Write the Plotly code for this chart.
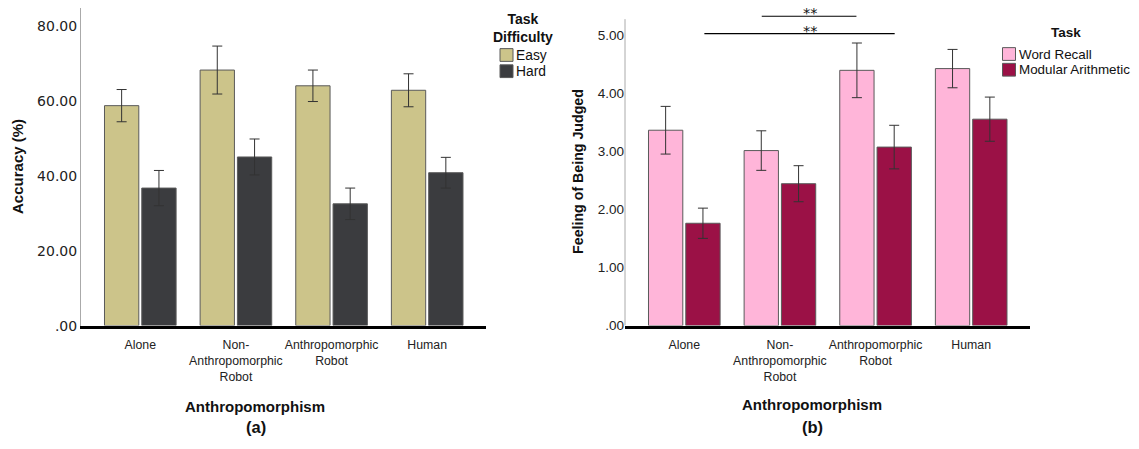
import plotly.graph_objects as go

W, H = 1139, 449

categories = ["Alone", "Non-<br>Anthropomorphic<br>Robot", "Anthropomorphic<br>Robot", "Human"]

# Panel (a): Accuracy (%)
acc_easy = [58.7, 68.2, 64.0, 62.8]
acc_easy_err = [4.3, 6.4, 4.2, 4.4]
acc_hard = [36.7, 45.0, 32.5, 40.8]
acc_hard_err = [4.7, 4.8, 4.2, 4.1]

# Panel (b): Feeling of Being Judged
fj_word = [3.36, 3.01, 4.39, 4.42]
fj_word_err = [0.41, 0.34, 0.47, 0.33]
fj_mod = [1.76, 2.44, 3.07, 3.55]
fj_mod_err = [0.26, 0.31, 0.375, 0.38]

acc_ticks = [0, 20, 40, 60, 80]
acc_ticktext = [".00", "20.00", "40.00", "60.00", "80.00"]
fj_ticks = [0, 1, 2, 3, 4, 5]
fj_ticktext = [".00", "1.00", "2.00", "3.00", "4.00", "5.00"]

# significance brackets: (x_start, x_end, y, label)
sig_lines = [(0.81, 1.80, 5.32, "**"), (0.21, 2.20, 5.02, "**")]

C_EASY = "#CCC48A"
C_HARD = "#3B3C3F"
C_WORD = "#FFB5D9"
C_MOD = "#9B1146"
OUTLINE = "#5a5a5a"
ERRC = "#333333"
FONT = "Arial, Liberation Sans, sans-serif"


def px(x):
    return x / W


def py(y):
    return 1 - y / H


def err(vals):
    return dict(type="data", array=vals, visible=True, color=ERRC, thickness=1, width=5)


fig = go.Figure()
fig.add_trace(go.Bar(x=categories, y=acc_easy, name="Easy", marker=dict(color=C_EASY, line=dict(color=OUTLINE, width=1)),
                     error_y=err(acc_easy_err), xaxis="x", yaxis="y", showlegend=False))
fig.add_trace(go.Bar(x=categories, y=acc_hard, name="Hard", marker=dict(color=C_HARD, line=dict(color=OUTLINE, width=1)),
                     error_y=err(acc_hard_err), xaxis="x", yaxis="y", showlegend=False))
fig.add_trace(go.Bar(x=categories, y=fj_word, name="Word Recall", marker=dict(color=C_WORD, line=dict(color=OUTLINE, width=1)),
                     error_y=err(fj_word_err), xaxis="x2", yaxis="y2", showlegend=False))
fig.add_trace(go.Bar(x=categories, y=fj_mod, name="Modular Arithmetic", marker=dict(color=C_MOD, line=dict(color=OUTLINE, width=1)),
                     error_y=err(fj_mod_err), xaxis="x2", yaxis="y2", showlegend=False))

ydom = [py(331.5), py(8)]
xa_common = dict(showline=True, linecolor="black", linewidth=2.5, ticks="", showgrid=False, zeroline=False,
                 tickangle=0, ticklabelstandoff=6, range=[-0.62, 3.615],
                 tickfont=dict(family=FONT, size=12.3, color="#222"), fixedrange=True)

fig.update_layout(
    width=W, height=H, margin=dict(l=0, r=0, t=0, b=0),
    paper_bgcolor="white", plot_bgcolor="white",
    barmode="group", bargap=0.22, bargroupgap=0.08,
    xaxis=dict(domain=[px(81), px(486)], anchor="y", **xa_common),
    xaxis2=dict(domain=[px(625), px(1030)], anchor="y2", **xa_common),
    yaxis=dict(domain=ydom, anchor="x", range=[0, 323.5 / 3.815], tickvals=acc_ticks, ticktext=acc_ticktext,
               showline=True, linecolor="#aaaaaa", linewidth=1, ticks="", showgrid=False, zeroline=False,
               tickfont=dict(family="DejaVu Sans", size=14, color="#222")),
    yaxis2=dict(domain=ydom, anchor="x2", range=[0, 323.5 / 59.2], tickvals=fj_ticks, ticktext=fj_ticktext,
                showline=False, ticks="", showgrid=False, zeroline=False,
                tickfont=dict(family=FONT, size=13.5, color="#222")),
    showlegend=False,
)

shapes = []
# right y-axis line (stops at 5.27)
shapes.append(dict(type="line", xref="x2 domain", yref="y2", x0=0, x1=0, y0=0, y1=5.27,
                   line=dict(color="#aaaaaa", width=1)))
for x0, x1, y, lab in sig_lines:
    shapes.append(dict(type="line", xref="x2", yref="y2", x0=x0, x1=x1, y0=y, y1=y, line=dict(color="black", width=1.2)))

# manual legends
def swatch(x0, y0, x1, y1, color):
    return dict(type="rect", xref="paper", yref="paper", x0=px(x0), x1=px(x1), y0=py(y1), y1=py(y0),
                fillcolor=color, line=dict(color=OUTLINE, width=1))

shapes += [swatch(500, 49.5, 513, 62.5, C_EASY), swatch(500, 66, 513, 79, C_HARD),
           swatch(1002.5, 48.5, 1015.5, 61.5, C_WORD), swatch(1002.5, 64.5, 1015.5, 77.5, C_MOD)]
fig.update_layout(shapes=shapes)

ann = []
def txt(x, y, s, size, bold=False, xanchor="center", yanchor="middle", angle=0, color="#111", family=FONT):
    ann.append(dict(xref="paper", yref="paper", x=px(x), y=py(y), text=f"<b>{s}</b>" if bold else s,
                    showarrow=False, xanchor=xanchor, yanchor=yanchor, textangle=angle,
                    font=dict(family=family, size=size, color=color)))

txt(18, 170, "Accuracy (%)", 15, bold=True, angle=-90)
txt(578, 175, "Feeling of Being Judged", 14.2, bold=True, angle=-90)
txt(255, 414, "Anthropomorphism", 15, bold=True)
txt(812, 412, "Anthropomorphism", 15, bold=True)
txt(256, 435, "(a)", 16.5, bold=True)
txt(812, 435, "(b)", 16.5, bold=True)
txt(523, 28, "Task<br>Difficulty", 14, bold=True)
txt(514, 56, "Easy", 13.8, xanchor="left")
txt(514, 72.5, "Hard", 13.8, xanchor="left")
txt(1066, 33.5, "Task", 13.5, bold=True)
txt(1016.5, 55, "Word Recall", 13.4, xanchor="left")
txt(1016.5, 71, "Modular Arithmetic", 13.4, xanchor="left")

for x0, x1, y, lab in sig_lines:
    ann.append(dict(xref="x2", yref="y2", x=1.315, y=y, text=lab, showarrow=False, xanchor="center",
                    yanchor="middle", height=12, yshift=3, font=dict(family="DejaVu Sans", size=14.5, color="#111")))

fig.update_layout(annotations=ann)
fig.write_html("out.html")
